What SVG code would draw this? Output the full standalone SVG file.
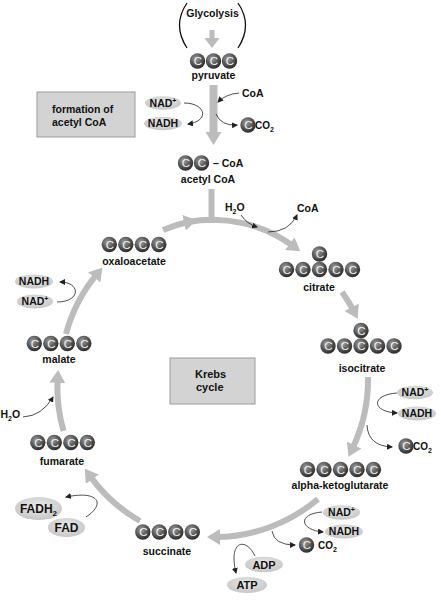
<svg xmlns="http://www.w3.org/2000/svg" xmlns:xlink="http://www.w3.org/1999/xlink" width="441" height="600" viewBox="0 0 441 600">
<style>
text{font-family:"Liberation Sans",Arial,sans-serif;font-weight:bold;fill:#111}
.lbl{font-size:10.5px;text-anchor:middle}
.el{fill:url(#eg)}
.et{font-size:10.5px;text-anchor:middle}
.cl{font-size:11.5px;font-weight:normal;fill:#f2f2f2;text-anchor:middle}
.box{fill:#d3d3d3;stroke:#9c9c9c;stroke-width:1}
.bt{font-size:10.5px}
.cyc{fill:none;stroke:#bcbcbc;stroke-width:6}
.thin{fill:none;stroke:#222;stroke-width:0.8}
.par{fill:none;stroke:#111;stroke-width:1.3}
</style>
<defs>
<radialGradient id="bg" cx="0.4" cy="0.35" r="0.65">
<stop offset="0" stop-color="#a0a0a0"/>
<stop offset="0.55" stop-color="#5c5c5c"/>
<stop offset="1" stop-color="#2c2c2c"/>
</radialGradient>
<radialGradient id="eg" cx="0.5" cy="0.4" r="0.6">
<stop offset="0" stop-color="#ebebeb"/>
<stop offset="1" stop-color="#c6c6c6"/>
</radialGradient>
<g id="c"><circle r="7.7" fill="url(#bg)"/><text class="cl" x="0.5" y="4">C</text></g>
<marker id="big" markerUnits="userSpaceOnUse" markerWidth="13" markerHeight="16" viewBox="0 0 13 16" refX="4" refY="8" orient="auto"><path d="M0,0 L13,8 L0,16 z" fill="#bcbcbc"/></marker>
<marker id="tip" markerUnits="userSpaceOnUse" markerWidth="6" markerHeight="6" viewBox="0 0 6 6" refX="5" refY="3" orient="auto"><path d="M0,0 L6,3 L0,6 z" fill="#222"/></marker>
</defs>

<g id="connectors">
<path class="par" d="M187,3 Q172,25 187,48"/>
<path class="par" d="M238,3 Q253,25 238,48"/>
<rect x="209.5" y="30" width="5" height="9" fill="#bcbcbc"/>
<polygon points="204.5,38 219.5,38 212,48" fill="#bcbcbc"/>
<path class="cyc" style="stroke-width:8" d="M213.5,85 L213.5,136" marker-end="url(#big)"/>
<path class="cyc" d="M211.5,189 L211.5,223"/>
<path class="cyc" d="M163,230 A136,136 0 0 1 188,222" marker-end="url(#big)"/>
<path class="cyc" d="M188,222 A136,136 0 0 1 293,246" marker-end="url(#big)"/>
<path class="cyc" d="M342,292 A160,160 0 0 1 353.5,310.7" marker-end="url(#big)"/>
<path class="cyc" d="M368,377 A160,160 0 0 1 352.4,448.7" marker-end="url(#big)"/>
<path class="cyc" d="M318,499 A160,160 0 0 1 216,537" marker-end="url(#big)"/>
<path class="cyc" d="M140,521 A157,157 0 0 1 90,476" marker-end="url(#big)"/>
<path class="cyc" d="M63.5,431 A157,157 0 0 1 57.6,379" marker-end="url(#big)"/>
<path class="cyc" d="M66,334 A157,157 0 0 1 96.7,274.4" marker-end="url(#big)"/>
<path class="thin" d="M239,93 Q226,94 218,102" marker-end="url(#tip)"/>
<path class="thin" d="M184,103 C206,103 210,121 188,124" marker-end="url(#tip)"/>
<path class="thin" d="M216,114 Q221,126 237,125" marker-end="url(#tip)"/>
<path class="thin" d="M241,215 Q247,224 257,227" marker-end="url(#tip)"/>
<path class="thin" d="M268,232 Q289,232 297,215" marker-end="url(#tip)"/>
<path class="thin" d="M57,302 C81,302 81,282 60,282" marker-end="url(#tip)"/>
<path class="thin" d="M23,417 Q42,416 53,397" marker-end="url(#tip)"/>
<path class="thin" d="M86,517 C106,504 99,490 66,497" marker-end="url(#tip)"/>
<path class="thin" d="M397,393 C370,395 372,412 397,413" marker-end="url(#tip)"/>
<path class="thin" d="M367,425 Q368,446 392,447" marker-end="url(#tip)"/>
<path class="thin" d="M322,512 C297,514 300,530 323,532" marker-end="url(#tip)"/>
<path class="thin" d="M272,531 Q274,545 295,545" marker-end="url(#tip)"/>
<path class="thin" d="M255,556 C246,537 228,540 236,573" marker-end="url(#tip)"/>
</g>

<g id="glycolysis"><text class="lbl" x="212.5" y="17">Glycolysis</text></g>

<g id="pyruvate">
<use href="#c" x="197.5" y="61"/><use href="#c" x="213.5" y="61"/><use href="#c" x="229.5" y="61"/>
<text class="lbl" x="213.5" y="79">pyruvate</text>
</g>

<g id="formation-box">
<rect class="box" x="37" y="92" width="98" height="45"/>
<text class="bt" x="52" y="113">formation of</text>
<text class="bt" x="52" y="126">acetyl CoA</text>
</g>

<g id="pyr-nad">
<ellipse class="el" cx="163" cy="103" rx="18" ry="6.7"/>
<text class="et" x="163" y="107">NAD<tspan dy="-4" font-size="7">+</tspan></text>
<ellipse class="el" cx="163" cy="123.5" rx="19" ry="6.7"/>
<text class="et" x="163" y="127.3">NADH</text>
</g>

<g id="pyr-coa"><text x="242" y="96.5" style="font-size:10.5px">CoA</text></g>
<g id="pyr-co2"><use href="#c" x="248" y="125"/><text x="255" y="128.5" style="font-size:10px">CO<tspan dy="3" font-size="7">2</tspan></text></g>

<g id="acetyl-coa">
<use href="#c" x="185.5" y="163"/><use href="#c" x="201.5" y="163"/>
<text x="213" y="167" style="font-size:10.5px">– CoA</text>
<text class="lbl" x="208" y="183">acetyl CoA</text>
</g>

<g id="h2o-citrate"><text x="225" y="211" style="font-size:10.5px">H<tspan dy="3" font-size="7">2</tspan><tspan dy="-3">O</tspan></text></g>
<g id="coa-citrate"><text x="297" y="212" style="font-size:10.5px">CoA</text></g>

<g id="oxaloacetate">
<use href="#c" x="109.3" y="244.5"/><use href="#c" x="125.8" y="244.5"/><use href="#c" x="142.3" y="244.5"/><use href="#c" x="158.8" y="244.5"/>
<text class="lbl" x="134" y="265">oxaloacetate</text>
</g>

<g id="oxa-nad">
<ellipse class="el" cx="34" cy="281.5" rx="19" ry="7"/>
<text class="et" x="34" y="285.3">NADH</text>
<ellipse class="el" cx="35" cy="301.5" rx="18" ry="7"/>
<text class="et" x="35" y="305.3">NAD<tspan dy="-4" font-size="7">+</tspan></text>
</g>

<g id="citrate">
<use href="#c" x="319.5" y="254"/>
<use href="#c" x="286.5" y="269.5"/><use href="#c" x="303" y="269.5"/><use href="#c" x="319.5" y="269.5"/><use href="#c" x="336" y="269.5"/><use href="#c" x="352.5" y="269.5"/>
<text class="lbl" x="319" y="291">citrate</text>
</g>

<g id="isocitrate">
<use href="#c" x="361" y="330.5"/>
<use href="#c" x="328" y="346"/><use href="#c" x="344.5" y="346"/><use href="#c" x="361" y="346"/><use href="#c" x="377.5" y="346"/><use href="#c" x="394" y="346"/>
<text class="lbl" x="362" y="372">isocitrate</text>
</g>

<g id="krebs-box">
<rect class="box" x="170" y="358" width="85" height="46"/>
<text x="195" y="378" style="font-size:11px">Krebs</text>
<text x="196" y="391" style="font-size:11px">cycle</text>
</g>

<g id="malate">
<use href="#c" x="34.3" y="343.5"/><use href="#c" x="50.8" y="343.5"/><use href="#c" x="67.3" y="343.5"/><use href="#c" x="83.8" y="343.5"/>
<text class="lbl" x="59" y="363">malate</text>
</g>

<g id="h2o-malate"><text x="0.5" y="418" style="font-size:10.5px">H<tspan dy="3" font-size="7">2</tspan><tspan dy="-3">O</tspan></text></g>

<g id="iso-nad">
<ellipse class="el" cx="415" cy="392.5" rx="18" ry="6.7"/>
<text class="et" x="415" y="396.3">NAD<tspan dy="-4" font-size="7">+</tspan></text>
<ellipse class="el" cx="417" cy="413.5" rx="19" ry="7"/>
<text class="et" x="417" y="417.3">NADH</text>
</g>
<g id="iso-co2"><use href="#c" x="406" y="446"/><text x="413" y="450" style="font-size:10px">CO<tspan dy="3" font-size="7">2</tspan></text></g>

<g id="fumarate">
<use href="#c" x="37.8" y="442.5"/><use href="#c" x="54.3" y="442.5"/><use href="#c" x="70.8" y="442.5"/><use href="#c" x="87.3" y="442.5"/>
<text class="lbl" x="62" y="465">fumarate</text>
</g>

<g id="alpha-ketoglutarate">
<use href="#c" x="307.5" y="469.5"/><use href="#c" x="324" y="469.5"/><use href="#c" x="340.5" y="469.5"/><use href="#c" x="357" y="469.5"/><use href="#c" x="373.5" y="469.5"/>
<text class="lbl" x="340" y="489">alpha-ketoglutarate</text>
</g>

<g id="fad">
<ellipse class="el" cx="38.5" cy="508.5" rx="23.5" ry="11.5"/>
<text class="et" x="38.5" y="512.5" style="font-size:12px">FADH<tspan dy="3" font-size="8">2</tspan></text>
<ellipse class="el" cx="66.5" cy="527.5" rx="18.5" ry="9.5"/>
<text class="et" x="66.5" y="531.8" style="font-size:12px">FAD</text>
</g>

<g id="alpha-nad">
<ellipse class="el" cx="341.5" cy="512.5" rx="18.5" ry="7.3"/>
<text class="et" x="341.5" y="516.3">NAD<tspan dy="-4" font-size="7">+</tspan></text>
<ellipse class="el" cx="344" cy="531.5" rx="19" ry="7"/>
<text class="et" x="344" y="535.3">NADH</text>
</g>
<g id="alpha-co2"><use href="#c" x="306.5" y="545"/><text x="318" y="549" style="font-size:10px">CO<tspan dy="3" font-size="7">2</tspan></text></g>

<g id="succinate">
<use href="#c" x="142.8" y="532"/><use href="#c" x="159.3" y="532"/><use href="#c" x="175.8" y="532"/><use href="#c" x="192.3" y="532"/>
<text class="lbl" x="167" y="555">succinate</text>
</g>

<g id="adp-atp">
<ellipse class="el" cx="264" cy="564.5" rx="19" ry="7.8"/>
<text class="et" x="264" y="568.5" style="font-size:11px">ADP</text>
<ellipse class="el" cx="247" cy="585" rx="20" ry="8"/>
<text class="et" x="247" y="589" style="font-size:11px">ATP</text>
</g>
</svg>
